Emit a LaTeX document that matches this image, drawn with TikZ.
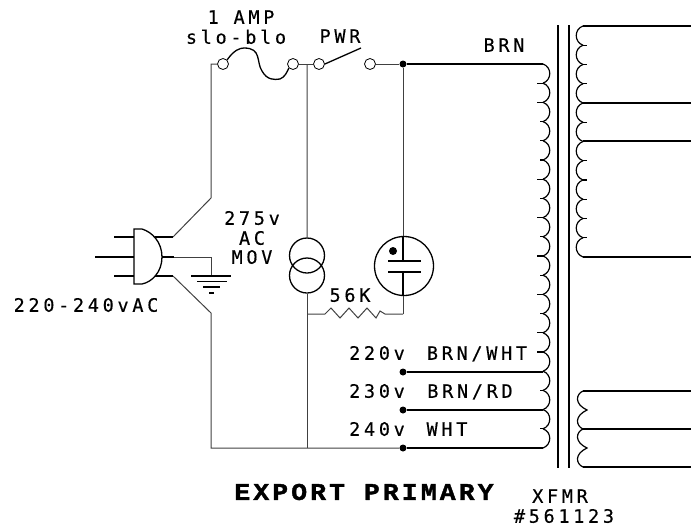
\documentclass[tikz,border=0pt]{standalone}
\usepackage{fontspec}
\newfontfamily\wirefont[LetterSpace=20,FakeBold=0.3]{DejaVu Sans Mono}
\newfontfamily\titlefont[LetterSpace=13,FakeStretch=1.1,FakeBold=1.5]{Liberation Mono Bold}
\usetikzlibrary{calc,positioning}
\definecolor{wiregray}{gray}{0.25}

\begin{document}
\begin{tikzpicture}[x=1pt,y=-1pt,on grid,
    thinwire/.style={draw=wiregray,line width=1pt},
    thickwire/.style={draw=black,line width=1.7pt},
    coilwire/.style={draw=black,line width=1.2pt},
    term/.style={circle,draw=black,fill=white,line width=0.8pt,inner sep=0pt,minimum size=11pt},
    tap/.style={circle,fill=black,inner sep=0pt,minimum size=7pt},
    bulb/.style={circle,draw=black,line width=1.3pt,inner sep=0pt},
    wlabel/.style={font=\wirefont\fontsize{18.5}{18.5}\selectfont,inner sep=0pt,text height=13.5pt,text depth=0pt}]

  \useasboundingbox (0,0) rectangle (691,528);

  % terminals along the top
  \node[term] (fuseL) at (223,64) {};
  \node[term] (fuseR) [right=70pt of fuseL] {};
  \node[term] (pwrL) [right=26pt of fuseR] {};
  \node[term] (pwrR) [right=51pt of pwrL] {};
  \node[tap] (top) [right=33pt of pwrR] {};
  \coordinate (midtop) at ($(fuseR)!.54!(pwrL)$);
  \coordinate (corner) at (211,64);
  \coordinate (hot) at (211,198);
  \coordinate (neutral) at (211,313);
  \coordinate (botleft) at (211,448);
  \node[tap] (t220) at (403,372) {};
  \node[tap] (t230) [below=38pt of t220] {};
  \node[tap] (t240) [below=38pt of t230] {};
  \coordinate (midbot) at (307,448);

  % MOV
  \node[bulb,minimum size=35pt] (movA) at (307,255.5) {};
  \node[bulb,minimum size=35pt] (movB) [below=20pt of movA] {};

  % neon lamp
  \node[bulb,minimum size=59pt] (neon) at (404,266) {};
  \node[tap,minimum size=8pt] (neondot) at (393,251) {};
  \coordinate (plateA) at (403,261);
  \coordinate (plateB) at (403,272);
  \coordinate (neonbot) at (403,314);
  \coordinate (resL) at (307,314);

  % thin wiring
  \path[thinwire] (fuseL) -- (corner) -- (hot) -- (173,237);
  \path[thinwire] (fuseR) -- (pwrL);
  \path[thinwire] (pwrR) -- (top);
  \path[thinwire] (midtop) -- (movA.north);
  \path[thinwire] (movB.south) -- (midbot);
  \path[thinwire] (top) -- (neon.north -| top);
  \path[thinwire] (neon.south -| top) -- (neonbot);
  \path[thinwire] (173,276) -- (neutral) -- (botleft) -- (t240);
  \path[thinwire] (174,257) -| (211,276);

  % resistor
  \path[thinwire] (resL) -- (325,314) -- (331,308) -- (340,318) -- (349,308)
    -- (358,318) -- (367,308) -- (376,318) -- (380,311) -- (385,314) -- (neonbot);

  % lamp plates
  \path[thickwire] (neon.north -| top) -- (plateA);
  \path[thickwire] (plateB) -- (neon.south -| top);
  \path[thickwire,line width=2.6pt] ($(plateA)+(-15,0)$) -- ($(plateA)+(18,0)$);
  \path[thickwire,line width=2.6pt] ($(plateB)+(-15,0)$) -- ($(plateB)+(18,0)$);

  % fuse and switch
  \path[coilwire,line width=1.3pt] (fuseL.north east) .. controls (234,50) and (240,48) .. (244,48)
    .. controls (262,48) and (256,62) .. (262,71)
    .. controls (267,80) and (274,80) .. (280,79)
    .. controls (285,77) and (287,72) .. (fuseR.south west);
  \path[coilwire,line width=1.3pt] (pwrL.east) -- (361,48);

  % plug
  \path[thickwire] (114,237) -- (134,237);
  \path[thickwire] (95,257) -- (134,257);
  \path[thickwire] (114,276) -- (134,276);
  \path[coilwire,line width=1.3pt] (134,229) -- (134,284) -- (142,284)
    .. controls (152,282) and (162,272) .. (162,257)
    .. controls (162,242) and (152,232) .. (142,229) -- cycle;
  \path[thickwire] (155,237) -- (173,237);
  \path[thickwire] (162,257) -- (174,257);
  \path[thickwire] (155,276) -- (173,276);

  % ground
  \path[thickwire] (191,276) -- (231,276);
  \path[coilwire] (197,281.5) -- (227,281.5);
  \path[coilwire] (203,287) -- (220,287);
  \path[thickwire] (209,293) -- (214,293);

  % core
  \path[thickwire,line width=1.3pt] (558,25) -- (558,468);
  \path[thickwire,line width=1.3pt] (569,25) -- (569,468);

  % primary winding
  \foreach \i in {0,...,19}{
    \path[coilwire] (543,{64+19.2*\i}) .. controls (552,{67+19.2*\i}) and (552,{80+19.2*\i}) .. (543,{83.2+19.2*\i});
  }
  \foreach \i in {1,2,6,8,10,12,14,15}
    \path[coilwire] (537,{64+19.2*\i}) -- (543,{64+19.2*\i});
  \foreach \i in {3,4,5,7,9,11,13,17,19}
    \path[coilwire] (540,{64+19.2*\i}) -- (543,{64+19.2*\i});
  \path[thickwire] (top) -- (543,64);
  \path[thickwire] (t220) -- (543,372);
  \path[thickwire] (t230) -- (543,410);
  \path[thickwire] (t240) -- (543,448);

  % secondary windings
  \foreach \i in {0,...,11}{
    \path[coilwire] (583,{26+19.25*\i}) .. controls (574,{29+19.25*\i}) and (574,{42+19.25*\i}) .. (583,{45.25+19.25*\i});
    \path[coilwire] (583,{26+19.25*\i}) -- (587,{26+19.25*\i});
  }
  \foreach \y in {26,103,141,257}
    \path[thickwire] (583,\y) -- (691,\y);
  \foreach \i in {0,1}{
    \path[coilwire] (583,{391+38*\i}) .. controls (576,{394+38*\i}) and (574,{404+38*\i}) .. (587,{410+38*\i})
      .. controls (574,{416+38*\i}) and (576,{426+38*\i}) .. (583,{429+38*\i});
  }
  \foreach \y in {391,429,467}
    \path[thickwire] (583,\y) -- (691,\y);

  % labels
  \node[wlabel] (amp) at (241,17) {1 AMP};
  \node[wlabel] (slo) [below=20pt of amp,xshift=-5pt] {slo-blo};
  \node[wlabel] (pwr) at (340,36) {PWR};
  \node[wlabel] (brn) at (504,45) {BRN};
  \node[wlabel] (mova) at (252,218) {275v};
  \node[wlabel] (movb) [below=20pt of mova] {AC};
  \node[wlabel] (movc) [below=19pt of movb] {MOV};
  \node[wlabel] (input) at (86,305) {220-240vAC};
  \node[wlabel] (res) at (350,295) {56K};
  \node[wlabel] (v220) at (377,353) {220v};
  \node[wlabel] (v230) [below=38pt of v220] {230v};
  \node[wlabel] (v240) [below=38pt of v230] {240v};
  \node[wlabel] (c220) [right=100pt of v220] {BRN/WHT};
  \node[wlabel] (c230) [right=93pt of v230] {BRN/RD};
  \node[wlabel] (c240) [right=70pt of v240] {WHT};
  \node[font=\titlefont\fontsize{24}{24}\selectfont,inner sep=0pt] (title) at (364,492) {EXPORT PRIMARY};
  \node[wlabel] (xfmr) at (560,496) {XFMR};
  \node[wlabel] (part) [below=20pt of xfmr,xshift=4pt] {\#561123};

\end{tikzpicture}
\end{document}
